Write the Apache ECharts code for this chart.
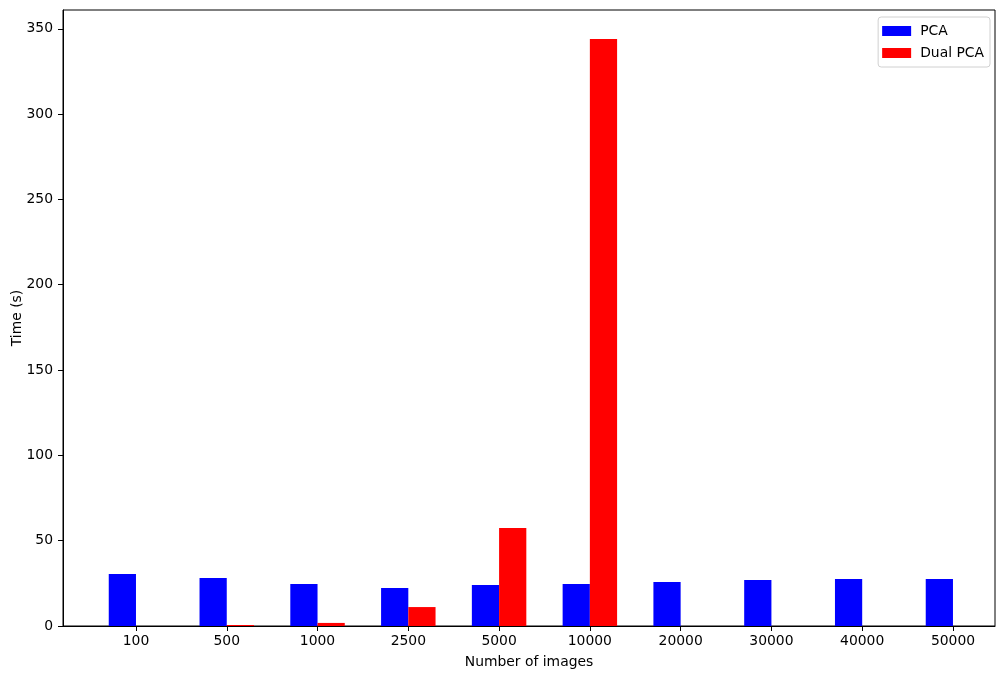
<!DOCTYPE html>
<html>
<head>
<meta charset="utf-8">
<script src="https://cdn.jsdelivr.net/npm/echarts@6/dist/echarts.min.js"></script>
<style>
html,body{margin:0;padding:0;background:#fff;}
#chart{width:1005px;height:679px;}
</style>
</head>
<body>
<div id="chart"></div>
<script>
const categories = ['100','500','1000','2500','5000','10000','20000','30000','40000','50000'];
const pcaTimes = [30.5, 28.1, 24.6, 22.3, 24.0, 24.6, 25.8, 27.0, 27.6, 27.6];
const dualPcaTimes = [0, 0.6, 1.8, 11.1, 57.4, 344.0];
const yTicks = [0, 50, 100, 150, 200, 250, 300, 350];

const barW = 0.3;
const idx = categories.map((c, i) => i);
const pcaData = pcaTimes.map((v, i) => [i - barW / 2, v]);
const dualData = dualPcaTimes.map((v, i) => [i + barW / 2, v]);

const chart = echarts.init(document.getElementById('chart'), null, {renderer: 'canvas'});
const font = 'DejaVu Sans';
const fs = 13.9;
const plotWidth = 1005 - 63 - 10;
const xMin = -0.804, xMax = 9.463;
const pxPerUnit = plotWidth / (xMax - xMin);

chart.setOption({
  animation: false,
  textStyle: {fontFamily: font},
  grid: {left: 63, right: 10, top: 10, bottom: 53, containLabel: false, outerBoundsMode: 'none',
         show: true, borderColor: '#000', borderWidth: 1, backgroundColor: 'transparent'},
  legend: {
    orient: 'vertical', right: 15, top: 17,
    itemWidth: 29, itemHeight: 10, itemGap: 8,
    icon: 'rect',
    padding: [7, 6, 7, 4],
    borderColor: '#d0d0d0', borderWidth: 1, borderRadius: 3,
    textStyle: {fontFamily: font, fontSize: fs, color: '#000', padding: [0, 0, 0, 4]},
    data: ['PCA', 'Dual PCA']
  },
  xAxis: {
    type: 'value', min: xMin, max: xMax,
    name: 'Number of images', nameLocation: 'middle', nameGap: 29, nameMoveOverlap: false,
    nameTextStyle: {fontFamily: font, fontSize: fs, color: '#000'},
    splitLine: {show: false},
    axisLine: {show: true, onZero: false, lineStyle: {color: '#000'}},
    axisTick: {show: true, inside: false, length: 5, lineStyle: {color: '#000', width: 1}, customValues: idx},
    axisLabel: {
      fontFamily: font, fontSize: fs, color: '#000', margin: 8,
      customValues: idx,
      formatter: v => categories[Math.round(v)]
    }
  },
  yAxis: {
    type: 'value', min: 0, max: 361,
    name: 'Time (s)', nameLocation: 'middle', nameGap: 39, nameMoveOverlap: false,
    nameTextStyle: {fontFamily: font, fontSize: fs, color: '#000'},
    splitLine: {show: false},
    axisLine: {show: true, onZero: false, lineStyle: {color: '#000'}},
    axisTick: {show: true, inside: false, length: 5, lineStyle: {color: '#000', width: 1}, customValues: yTicks},
    axisLabel: {fontFamily: font, fontSize: fs, color: '#000', margin: 10, customValues: yTicks}
  },
  series: [
    {name: 'PCA', type: 'bar', data: pcaData, barWidth: barW * pxPerUnit, barGap: '-100%', itemStyle: {color: '#0000ff'}},
    {name: 'Dual PCA', type: 'bar', data: dualData, barWidth: barW * pxPerUnit, barGap: '-100%', itemStyle: {color: '#ff0000'}}
  ]
});
</script>
</body>
</html>
